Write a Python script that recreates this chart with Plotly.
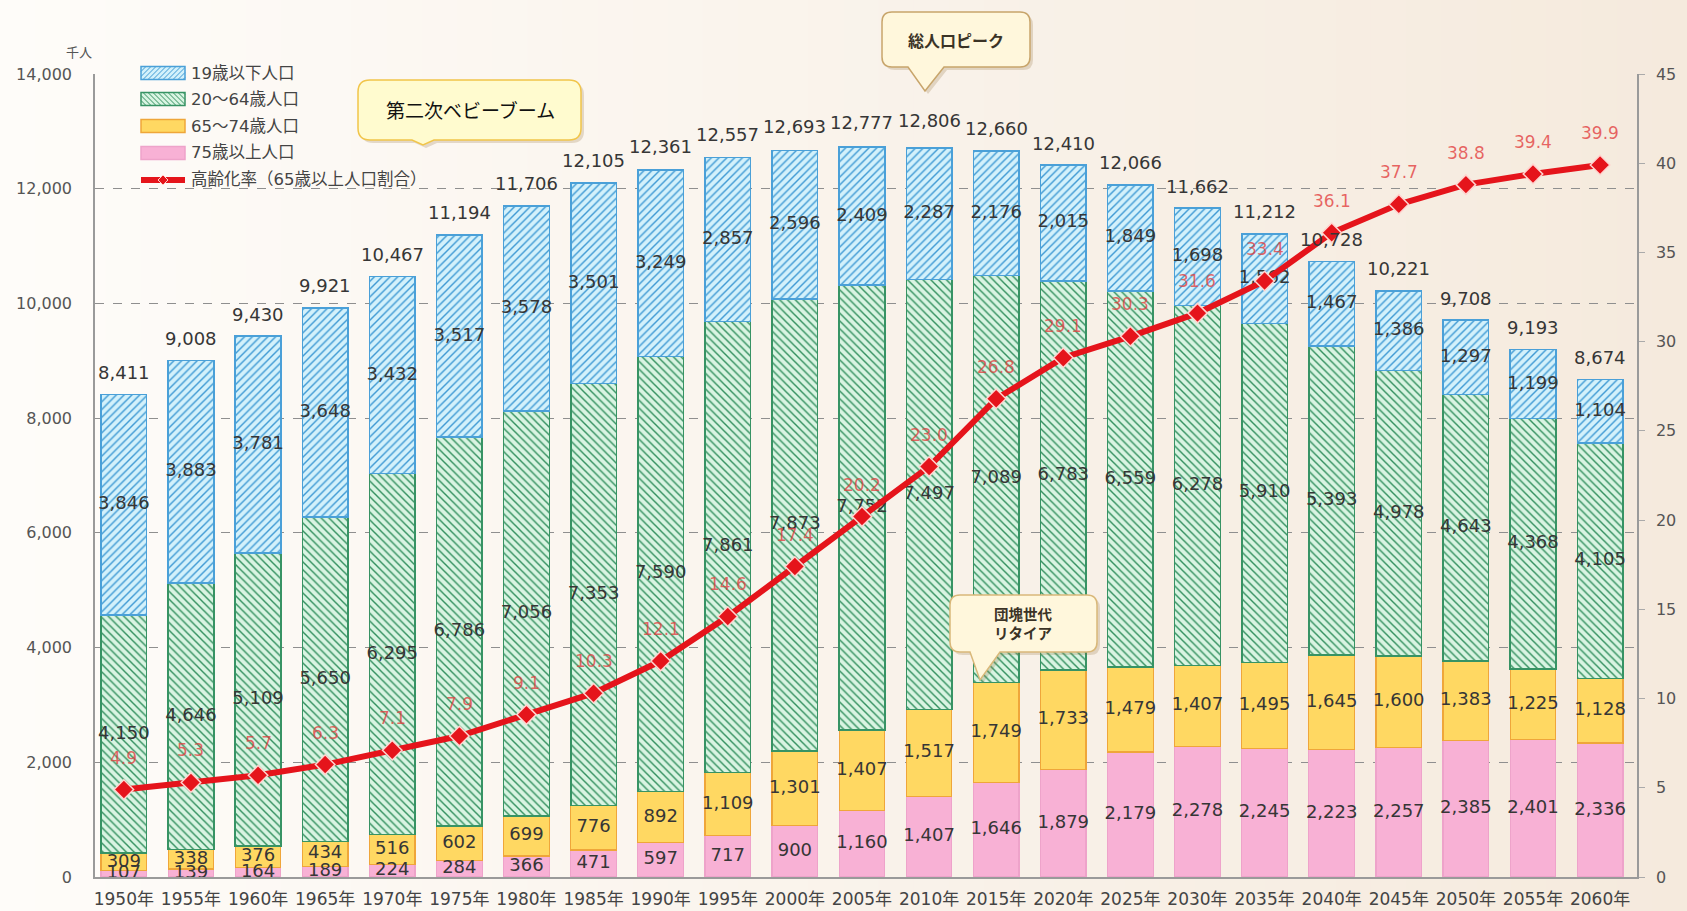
import plotly.graph_objects as go

# ---- data (千人 / %) ----
years = ["1950年", "1955年", "1960年", "1965年", "1970年", "1975年", "1980年", "1985年",
         "1990年", "1995年", "2000年", "2005年", "2010年", "2015年", "2020年", "2025年",
         "2030年", "2035年", "2040年", "2045年", "2050年", "2055年", "2060年"]

pop_under19 = [3846, 3883, 3781, 3648, 3432, 3517, 3578, 3501, 3249, 2857, 2596, 2409,
               2287, 2176, 2015, 1849, 1698, 1562, 1467, 1386, 1297, 1199, 1104]
pop_20_64 = [4150, 4646, 5109, 5650, 6295, 6786, 7056, 7353, 7590, 7861, 7873, 7752,
             7497, 7089, 6783, 6559, 6278, 5910, 5393, 4978, 4643, 4368, 4105]
pop_65_74 = [309, 338, 376, 434, 516, 602, 699, 776, 892, 1109, 1301, 1407,
             1517, 1749, 1733, 1479, 1407, 1495, 1645, 1600, 1383, 1225, 1128]
pop_75over = [107, 139, 164, 189, 224, 284, 366, 471, 597, 717, 900, 1160,
              1407, 1646, 1879, 2179, 2278, 2245, 2223, 2257, 2385, 2401, 2336]
pop_total = [8411, 9008, 9430, 9921, 10467, 11194, 11706, 12105, 12361, 12557, 12693, 12777,
             12806, 12660, 12410, 12066, 11662, 11212, 10728, 10221, 9708, 9193, 8674]
aging_rate = [4.9, 5.3, 5.7, 6.3, 7.1, 7.9, 9.1, 10.3, 12.1, 14.6, 17.4, 20.2,
              23.0, 26.8, 29.1, 30.3, 31.6, 33.4, 36.1, 37.7, 38.8, 39.4, 39.9]

y_ticks_left = [0, 2000, 4000, 6000, 8000, 10000, 12000, 14000]
y_ticks_right = [0, 5, 10, 15, 20, 25, 30, 35, 40, 45]

# ---- page geometry ----
W, H = 1687, 911
ML, MR, MT, MB = 95, 50, 74, 34
PW, PH = W - ML - MR, H - MT - MB

FONT = "DejaVu Sans, Noto Sans CJK JP, sans-serif"
CJK = "Noto Sans CJK JP, sans-serif"

# series styles
RED = "#e5141b"
STYLE = {
    "u19": dict(fill="#d3f1fb", edge="#4aa0d8", hatch="#3f9ad4", shape="/"),
    "mid": dict(fill="#d9f4e2", edge="#379364", hatch="#33905f", shape="\\"),
    "y65": dict(fill="#ffd862", edge="#efa63a", hatch=None, shape=""),
    "o75": dict(fill="#f8b1d5", edge="#eea3ca", hatch=None, shape=""),
}


def px(x):
    return (x - ML) / PW


def py(y):
    return (H - MB - y) / PH


def pt(x, y):
    return f"{px(x):.5f},{py(y):.5f}"


def callout_path(x0, y0, x1, y1, r, ptr=None):
    """Rounded box (pixel coords) with an optional pointer on the bottom edge."""
    pts = [("M", (x0 + r, y0)), ("L", (x1 - r, y0)), ("Q", (x1, y0), (x1, y0 + r)),
           ("L", (x1, y1 - r)), ("Q", (x1, y1), (x1 - r, y1))]
    if ptr:
        bx0, bx1, tx, ty = ptr
        pts += [("L", (bx1, y1)), ("L", (tx, ty)), ("L", (bx0, y1))]
    pts += [("L", (x0 + r, y1)), ("Q", (x0, y1), (x0, y1 - r)),
            ("L", (x0, y0 + r)), ("Q", (x0, y0), (x0 + r, y0))]
    out = []
    for seg in pts:
        cmd, coords = seg[0], seg[1:]
        out.append(cmd + " ".join(pt(a, b) for a, b in coords))
    return " ".join(out) + " Z"


def hatch_path(x0, y0, x1, y1, shape, step=5.0):
    """Diagonal hatch segments clipped to a pixel rectangle."""
    h = y1 - y0
    segs = []
    c = x0 - h
    while c < x1:
        t0 = max(0.0, (x0 - c) / h)
        t1 = min(1.0, (x1 - c) / h)
        if t1 > t0:
            if shape == "/":
                a = (c + t0 * h, y1 - t0 * h)
                b = (c + t1 * h, y1 - t1 * h)
            else:
                a = (c + t0 * h, y0 + t0 * h)
                b = (c + t1 * h, y0 + t1 * h)
            segs.append(f"M{pt(*a)} L{pt(*b)}")
        c += step
    return " ".join(segs)


fig = go.Figure()


def bar_marker(key):
    s = STYLE[key]
    m = dict(color=s["fill"], line=dict(color=s["edge"], width=1.5 if s["hatch"] else 1.2))
    if s["hatch"]:
        m["pattern"] = dict(shape=s["shape"], fgcolor=s["hatch"], bgcolor=s["fill"],
                            size=5.5, solidity=0.26, fillmode="replace")
    return m


# ---- stacked bars (bottom to top) ----
fig.add_bar(x=years, y=pop_75over, name="75歳以上人口", marker=bar_marker("o75"))
fig.add_bar(x=years, y=pop_65_74, name="65～74歳人口", marker=bar_marker("y65"))
fig.add_bar(x=years, y=pop_20_64, name="20～64歳人口", marker=bar_marker("mid"))
fig.add_bar(x=years, y=pop_under19, name="19歳以下人口", marker=bar_marker("u19"))

# ---- segment value labels at the middle of each segment ----
segments = [pop_75over, pop_65_74, pop_20_64, pop_under19]
base = [0] * len(years)
for seg in segments:
    mids = [b + v / 2 for b, v in zip(base, seg)]
    fig.add_scatter(x=years, y=mids, mode="text", text=[f"{v:,}" for v in seg],
                    textfont=dict(size=18, color="#363636", family=FONT),
                    showlegend=False, hoverinfo="skip", cliponaxis=False)
    base = [b + v for b, v in zip(base, seg)]

# ---- ageing rate line ----
fig.add_scatter(x=years, y=aging_rate, yaxis="y2", name="高齢化率（65歳以上人口割合）",
                mode="lines+markers",
                line=dict(color=RED, width=6),
                marker=dict(symbol="diamond", size=15, color=RED,
                            line=dict(color="#ffd4cf", width=1.5)),
                cliponaxis=False)

annotations = []
# totals above each bar
for yr, tot in zip(years, pop_total):
    annotations.append(dict(x=yr, y=tot, xref="x", yref="y", text=f"{tot:,}",
                            showarrow=False, yanchor="middle", yshift=22,
                            font=dict(size=18, color="#363636", family=FONT)))
# ageing rate values
for yr, r in zip(years, aging_rate):
    annotations.append(dict(x=yr, y=r, xref="x", yref="y2", text=f"{r:.1f}",
                            showarrow=False, yanchor="middle", yshift=32,
                            font=dict(size=17, color="rgba(226,62,62,0.78)", family=FONT)))

# unit label
annotations.append(dict(x=px(79), y=py(51), xref="paper", yref="paper", text="千人",
                        showarrow=False, xanchor="center", yanchor="middle",
                        font=dict(size=13, color="#555", family=CJK)))

shapes = []
# background: soft horizontal cream gradient
n = 48
c0, c1 = (254, 252, 249), (245, 234, 221)
for i in range(n):
    t = i / (n - 1)
    col = tuple(round(a + (b - a) * t) for a, b in zip(c0, c1))
    shapes.append(dict(type="rect", xref="paper", yref="paper", layer="below",
                       x0=px(W * i / n), x1=px(W * (i + 1) / n + 1),
                       y0=py(H), y1=py(0), line=dict(width=0),
                       fillcolor=f"rgb{col}"))

# ---- legend (wide swatches) ----
LX0, LX1, LTX = 141, 185, 189
legend_rows = [
    ("u19", "19歳以下人口", 73),
    ("mid", "20～64歳人口", 99),
    ("y65", "65～74歳人口", 126),
    ("o75", "75歳以上人口", 153),
]
for key, label, cy in legend_rows:
    s = STYLE[key]
    y0, y1 = cy - 6.5, cy + 6.5
    shapes.append(dict(type="rect", xref="paper", yref="paper", layer="above",
                       x0=px(LX0), x1=px(LX1), y0=py(y1), y1=py(y0),
                       fillcolor=s["fill"], line=dict(width=0)))
    if s["hatch"]:
        shapes.append(dict(type="path", xref="paper", yref="paper", layer="above",
                           path=hatch_path(LX0, y0, LX1, y1, s["shape"]),
                           line=dict(color=s["hatch"], width=1)))
    shapes.append(dict(type="rect", xref="paper", yref="paper", layer="above",
                       x0=px(LX0), x1=px(LX1), y0=py(y1), y1=py(y0),
                       line=dict(color=s["edge"], width=1.5)))
    annotations.append(dict(x=px(LTX), y=py(cy), xref="paper", yref="paper", text=label,
                            showarrow=False, xanchor="left", yanchor="middle",
                            font=dict(size=16.5, color="#444", family=FONT)))
# line entry
cy = 180
shapes.append(dict(type="line", xref="paper", yref="paper", layer="above",
                   x0=px(LX0), x1=px(LX1), y0=py(cy), y1=py(cy),
                   line=dict(color=RED, width=6)))
mx, d = (LX0 + LX1) / 2, 5
shapes.append(dict(type="path", xref="paper", yref="paper", layer="above",
                   path=f"M{pt(mx, cy - d)} L{pt(mx + d, cy)} L{pt(mx, cy + d)} L{pt(mx - d, cy)} Z",
                   fillcolor=RED, line=dict(color="#ffd4cf", width=1)))
annotations.append(dict(x=px(LTX), y=py(cy), xref="paper", yref="paper",
                        text="高齢化率（65歳以上人口割合）",
                        showarrow=False, xanchor="left", yanchor="middle",
                        font=dict(size=16.5, color="#444", family=FONT)))

# ---- callouts ----
callouts = [
    # (box, pointer, fill, border, text, center, font size, color)
    ((358, 80, 581, 140, 12), (412, 434, 423, 145), "#fffbcf", "#f1c54a",
     "第二次ベビーブーム", (470, 110), 19, "#111111"),
    ((882, 12, 1030, 67, 10), (908, 944, 925, 91), "#fff7dc", "#c8a56b",
     "<b>総人口ピーク</b>", (956, 40), 16, "#3b3326"),
    ((950, 595, 1097, 652, 10), (970, 1000, 980, 680), "#fff7dc", "#d9b879",
     "<b>団塊世代<br>リタイア</b>", (1023, 623), 14.5, "#3b3326"),
]
for (x0, y0, x1, y1, r), ptr, fill, border, text, (tx, ty), fs, tc in callouts:
    sx, sy = 3, 3
    shadow_ptr = (ptr[0] + sx, ptr[1] + sx, ptr[2] + sx, ptr[3] + sy)
    shapes.append(dict(type="path", xref="paper", yref="paper", layer="above",
                       path=callout_path(x0 + sx, y0 + sy, x1 + sx, y1 + sy, r, shadow_ptr),
                       fillcolor="rgba(140,105,50,0.22)", line=dict(width=0)))
    shapes.append(dict(type="path", xref="paper", yref="paper", layer="above",
                       path=callout_path(x0, y0, x1, y1, r, ptr),
                       fillcolor=fill, line=dict(color=border, width=1.5)))
    annotations.append(dict(x=px(tx), y=py(ty), xref="paper", yref="paper", text=text,
                            showarrow=False, xanchor="center", yanchor="middle",
                            font=dict(size=fs, color=tc, family=CJK)))

fig.update_layout(
    width=W, height=H, autosize=False,
    margin=dict(l=ML, r=MR, t=MT, b=MB),
    paper_bgcolor="#faf4ec", plot_bgcolor="rgba(0,0,0,0)",
    font=dict(family=FONT, color="#444"),
    barmode="stack", bargap=0.32,
    showlegend=False,
    xaxis=dict(type="category", range=[-0.43, 22.55], showline=True, linecolor="#9a9a9a",
               linewidth=1.5, ticks="", tickfont=dict(size=17, color="#444", family=FONT),
               ticklabelstandoff=6, automargin=False, showgrid=False, fixedrange=True),
    yaxis=dict(range=[0, 14000], tickvals=y_ticks_left, tickformat=",d",
               showgrid=True, gridcolor="#8f8f8f", griddash="dash", gridwidth=1,
               showline=True, linecolor="#9a9a9a", linewidth=1.5, zeroline=False,
               ticks="", ticklabelstandoff=18, automargin=False,
               tickfont=dict(size=16, color="#555", family=FONT)),
    yaxis2=dict(range=[0, 45], tickvals=y_ticks_right, overlaying="y", side="right",
                showgrid=False, showline=True, linecolor="#9a9a9a", linewidth=1.5,
                zeroline=False, ticks="outside", ticklen=6, tickcolor="#aaaaaa",
                ticklabelstandoff=8, automargin=False,
                tickfont=dict(size=16, color="#555", family=FONT)),
    shapes=shapes,
    annotations=annotations,
)

fig.write_html("out.html", config={"displayModeBar": False})
